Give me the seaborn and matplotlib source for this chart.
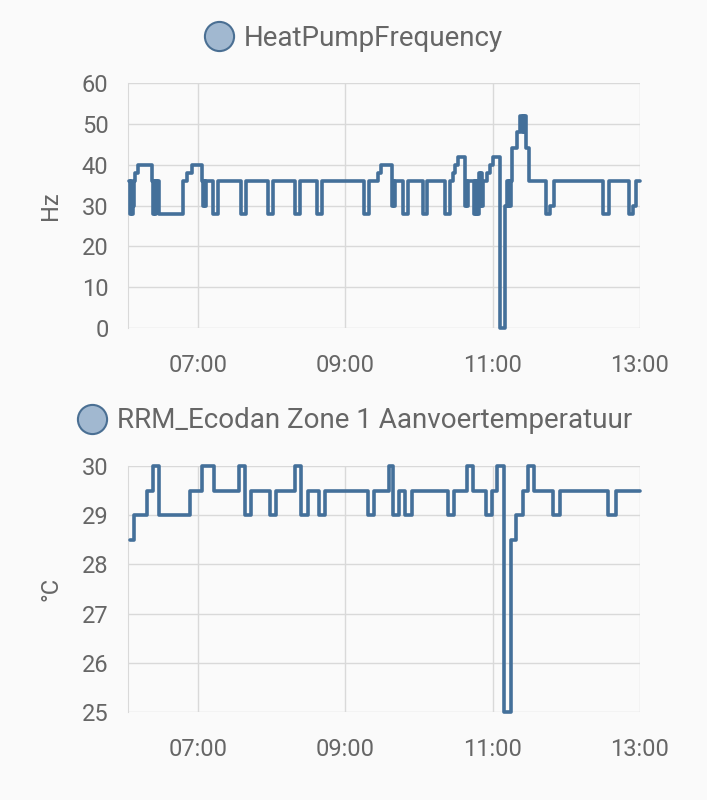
import pandas as pd
import matplotlib
matplotlib.use("Agg")
import matplotlib.pyplot as plt
import matplotlib.dates as mdates
from matplotlib.lines import Line2D
import seaborn as sns

# minutes after 06:00 and the value that starts at that moment (step data)
hp_minutes = [4.0, 4.8, 5.6, 6.4, 7.2, 8.0, 8.7, 10.9,
              22.8, 23.6, 24.4, 25.2, 26.0, 26.8, 27.6, 28.2,
              48.0, 50.8, 54.9, 63.0, 63.8, 64.6, 65.4, 66.2, 67.1,
              72.0, 76.5, 95.0, 99.1, 116.8, 120.8, 139.0, 143.1, 156.7, 160.8,
              195.2, 199.3, 206.8, 209.0, 217.8, 218.6, 219.4, 220.4,
              227.0, 231.3, 243.3, 246.9, 261.2, 265.2, 267.4, 269.3, 271.5,
              277.5, 278.3, 279.1, 280.3,
              285.0, 285.8, 286.6, 287.4, 288.2,
              289.1, 289.9, 290.7, 291.5, 292.4, 295.6, 298.3, 300.5,
              306.1, 309.8, 312.1, 312.9, 313.7, 314.5, 315.3,
              316.0, 319.8, 322.7, 323.6, 324.5, 325.4, 326.3, 327.1, 329.8,
              343.4, 347.1, 349.9, 389.9, 394.7, 411.3, 414.5, 416.7, 420.0]
hp_values = [36, 28, 36, 28, 30, 36, 38, 40,
             36, 28, 36, 28, 36, 30, 36, 28,
             36, 38, 40, 36, 30, 36, 30, 36, 36,
             28, 36, 28, 36, 28, 36, 28, 36, 28, 36,
             28, 36, 38, 40, 30, 36, 30, 36,
             28, 36, 28, 36, 28, 36, 38, 40, 42,
             30, 36, 30, 36,
             28, 36, 28, 36, 28,
             38, 30, 38, 30, 36, 38, 40, 42,
             0, 30, 36, 30, 36, 30, 36,
             44, 48, 52, 48, 52, 48, 52, 44, 36,
             28, 30, 36, 28, 36, 28, 30, 36, 36]

temp_minutes = [4.6, 8.1, 18.2, 23.1, 28.2, 53.5, 63.5, 73.3, 93.6, 98.3,
                103.2, 118.6, 123.3, 139.0, 143.6, 149.3, 158.5, 163.4, 198.7, 203.6,
                215.6, 219.0, 223.7, 228.6, 234.0, 263.9, 268.5, 279.3, 283.7, 294.6,
                299.2, 303.8, 309.2, 314.7, 319.0, 324.5, 329.0, 333.9, 348.9, 354.8,
                394.2, 400.2, 420.0]
temp_values = [28.5, 29, 29.5, 30, 29, 29.5, 30, 29.5, 30, 29,
               29.5, 29, 29.5, 30, 29, 29.5, 29, 29.5, 29, 29.5,
               30, 29, 29.5, 29, 29.5, 29, 29.5, 30, 29.5, 29,
               29.5, 30, 25, 28.5, 29, 29.5, 30, 29.5, 29, 29.5,
               29, 29.5, 29.5]

hp_label = "HeatPumpFrequency"
temp_label = "RRM_Ecodan Zone 1 Aanvoertemperatuur"
hp_ticks = [0, 10, 20, 30, 40, 50, 60]
temp_ticks = [25, 26, 27, 28, 29, 30]

base = pd.Timestamp("2024-01-01 06:00")
hp = pd.DataFrame({"time": base + pd.to_timedelta(hp_minutes, unit="min"), "value": hp_values})
temp = pd.DataFrame({"time": base + pd.to_timedelta(temp_minutes, unit="min"), "value": temp_values})

bg = "#fafafa"
line_col = "#44709a"
grid_col = "#d9d9d9"
text_col = "#666666"

sns.set_style("whitegrid", {"axes.facecolor": bg, "figure.facecolor": bg,
                            "grid.color": grid_col, "axes.edgecolor": grid_col})
plt.rcParams["font.family"] = ["Roboto", "DejaVu Sans"]

fig = plt.figure(figsize=(7.07, 8.0), dpi=100)
fig.patch.set_facecolor(bg)
ax1 = fig.add_axes([0.181, 0.59, 0.724, 0.306])
ax2 = fig.add_axes([0.181, 0.11, 0.724, 0.3075])

panels = [(ax1, hp, hp_ticks, "Hz", hp_label, 1 - 38 / 800, 353 / 707),
          (ax2, temp, temp_ticks, "°C", temp_label, 1 - 421 / 800, 354 / 707)]

for ax, df, ticks, unit, label, ly, lx in panels:
    sns.lineplot(data=df, x="time", y="value", ax=ax, color=line_col,
                 linewidth=2.6, drawstyle="steps-post", estimator=None,
                 clip_on=False, zorder=5)
    ax.set_xlim(base + pd.Timedelta(minutes=3), base + pd.Timedelta(minutes=420))
    ax.set_ylim(ticks[0], ticks[-1])
    ax.set_yticks(ticks)
    ax.xaxis.set_major_locator(mdates.HourLocator(byhour=[7, 9, 11, 13]))
    ax.xaxis.set_major_formatter(mdates.DateFormatter("%H:%M"))
    ax.set_xlabel("")
    ax.set_ylabel(unit, fontsize=17, color=text_col, labelpad=14)
    ax.tick_params(axis="both", labelsize=17, colors=text_col, length=10,
                   color=grid_col, width=1, pad=4)
    ax.tick_params(axis="x", pad=9)
    ax.grid(True, color=grid_col, linewidth=1)
    for s in ["top", "right", "bottom"]:
        ax.spines[s].set_visible(False)
    ax.spines["left"].set_color(grid_col)
    for t in ax.get_xticklabels() + ax.get_yticklabels():
        t.set_color(text_col)
    handle = Line2D([], [], linestyle="none", marker="o", markersize=21,
                    markerfacecolor="#a1b8d0", markeredgecolor="#4a6f93",
                    markeredgewidth=1.5)
    fig.legend([handle], [label], loc="center", bbox_to_anchor=(lx, ly),
               frameon=False, fontsize=20, labelcolor=text_col,
               handletextpad=0.35, handlelength=1.1)

fig.savefig("out.png", dpi=100, facecolor=bg)
